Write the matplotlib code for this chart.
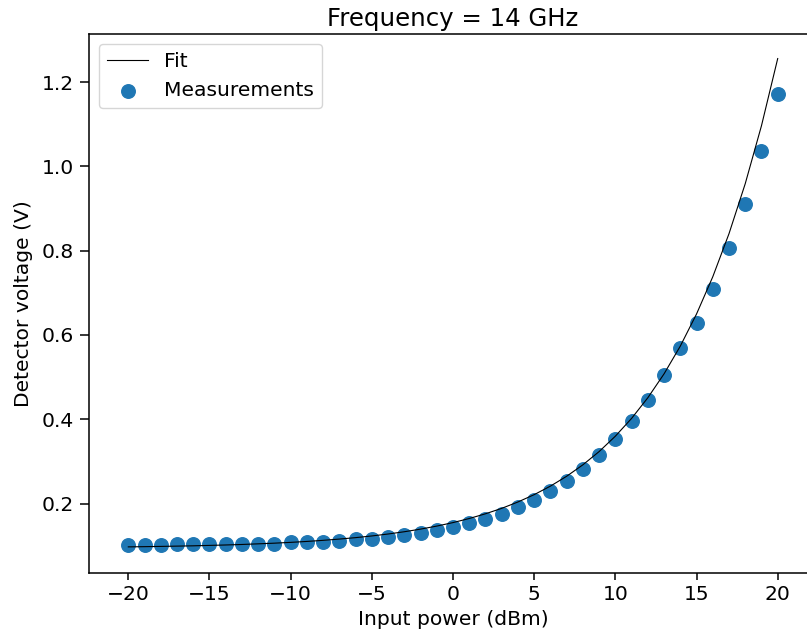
import numpy as np
import matplotlib
matplotlib.use("Agg")
import matplotlib.pyplot as plt

# Potência de entrada (dBm) e tensão medida no detector (V)
power_dbm = list(range(-20, 21))
measured_v = [0.102, 0.102, 0.102, 0.105, 0.105, 0.105, 0.105, 0.105, 0.105, 0.105,
              0.108, 0.108, 0.108, 0.111, 0.117, 0.117, 0.120, 0.1255, 0.1295, 0.137,
              0.144, 0.154, 0.164, 0.175, 0.192, 0.209, 0.230, 0.254, 0.281, 0.315,
              0.352, 0.397, 0.446, 0.504, 0.570, 0.629, 0.710, 0.807, 0.911, 1.037,
              1.172]
# Curva ajustada avaliada nos mesmos pontos
fit_v = [0.0972, 0.0977, 0.0983, 0.0990, 0.0997, 0.1007, 0.1017, 0.1029, 0.1044, 0.1060,
         0.1079, 0.1101, 0.1127, 0.1157, 0.1191, 0.1231, 0.1277, 0.1331, 0.1393, 0.1465,
         0.1548, 0.1645, 0.1757, 0.1886, 0.2037, 0.2211, 0.2413, 0.2647, 0.2919, 0.3233,
         0.3598, 0.4020, 0.4510, 0.5077, 0.5735, 0.6497, 0.7380, 0.8403, 0.9589, 1.0964,
         1.2557]

plt.rcParams['font.size'] = 14.6

fig = plt.figure(figsize=(8.07, 6.41), dpi=100)
ax = fig.add_axes([0.1103, 0.1066, 0.9021, 0.8404])

ax.plot(power_dbm, fit_v, color='black', linewidth=0.8, label='Fit')
ax.scatter(power_dbm, measured_v, s=95, color='#1f77b4', label='Measurements')

ax.set_xlim(-22.42, 22.42)
ax.set_ylim(0.036, 1.314)
ax.set_xticks([-20, -15, -10, -5, 0, 5, 10, 15, 20])
ax.set_yticks([0.2, 0.4, 0.6, 0.8, 1.0, 1.2])
ax.tick_params(axis='x', length=5, width=1.1, pad=4)
ax.tick_params(axis='y', length=6.5, width=1.1, pad=4.5)
for side in ax.spines.values():
    side.set_linewidth(1.1)

ax.set_title("Frequency = 14 GHz")
ax.set_xlabel("Input power (dBm)")
ax.set_ylabel("Detector voltage (V)", labelpad=6)
ax.legend(loc='upper left')

fig.savefig("out.png", dpi=100)
